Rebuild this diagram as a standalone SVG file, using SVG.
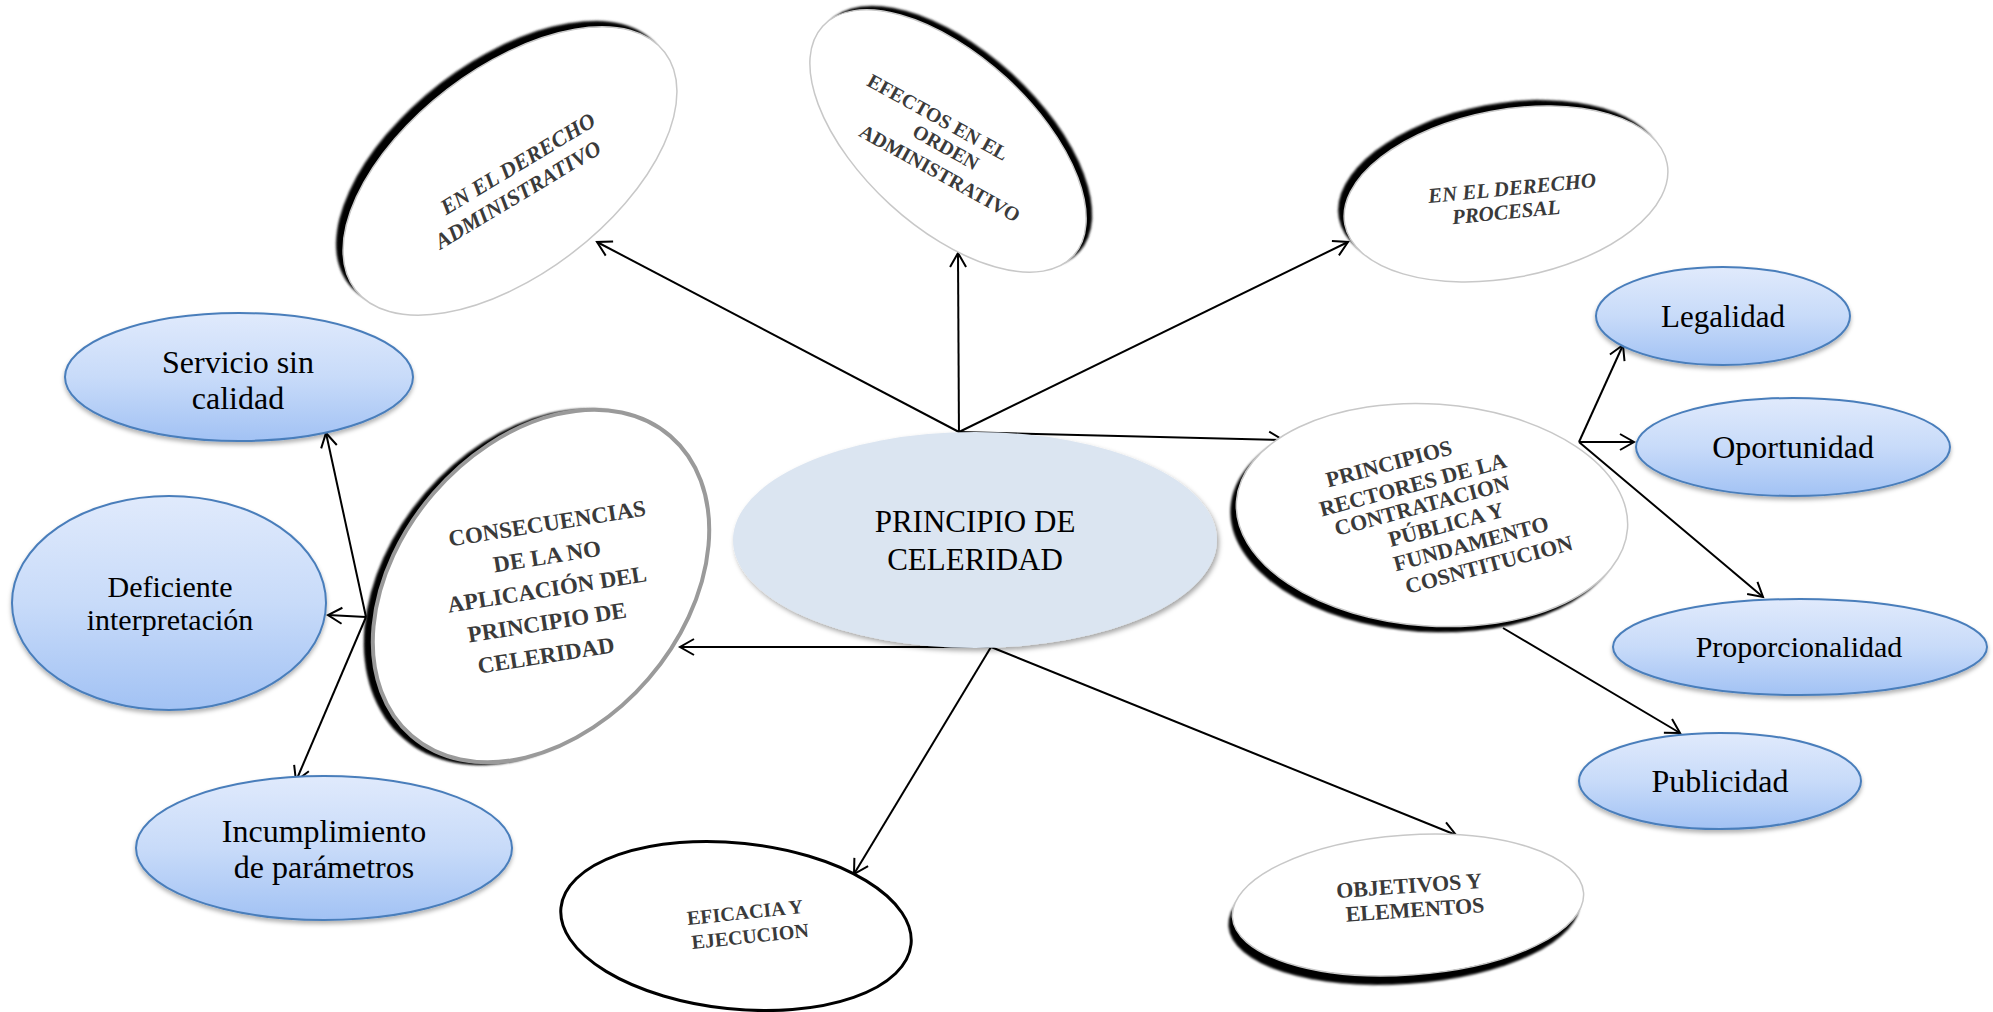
<svg xmlns="http://www.w3.org/2000/svg" width="1993" height="1012" viewBox="0 0 1993 1012">
<defs>
  <linearGradient id="blueGrad" x1="0" y1="0" x2="0" y2="1">
    <stop offset="0" stop-color="#e0eafc"/>
    <stop offset="0.5" stop-color="#c8dbf9"/>
    <stop offset="1" stop-color="#a2c2f4"/>
  </linearGradient>
  <filter id="dropShadow" x="-10%" y="-10%" width="120%" height="135%">
    <feDropShadow dx="0" dy="3" stdDeviation="2" flood-color="#000" flood-opacity="0.3"/>
  </filter>
  <filter id="centerShadow" x="-10%" y="-10%" width="120%" height="135%">
    <feDropShadow dx="2" dy="3" stdDeviation="2.5" flood-color="#000" flood-opacity="0.35"/>
  </filter>
  <filter id="soft" x="-10%" y="-10%" width="120%" height="120%">
    <feGaussianBlur stdDeviation="1.3"/>
  </filter>
  <marker id="arrow" viewBox="-16 -10 20 20" refX="0" refY="0" markerWidth="20" markerHeight="20" markerUnits="userSpaceOnUse" orient="auto">
    <path d="M-14,-8 L0,0 L-14,8" fill="none" stroke="#000" stroke-width="2"/>
  </marker>
</defs>
<style>
  .blue { fill: url(#blueGrad); stroke: #4a7ebb; stroke-width: 2; }
  .blueText { font-family: "Liberation Serif", serif; fill: #000; text-anchor: middle; }
  .bevel { fill: #000; }
  .face { fill: #fff; stroke: #c8c8c8; stroke-width: 1.5; }
  .tilt { font-family: "Liberation Serif", serif; font-weight: bold; fill: #3a3a3a; text-anchor: middle; }
  .ital { font-style: italic; }
  .conn { stroke: #000; stroke-width: 2; fill: none; marker-end: url(#arrow); }
</style>
<rect width="1993" height="1012" fill="#fff"/>

<!-- connectors -->
<g id="connectors">
  <path class="conn" d="M959,432 L597,242"/>
  <path class="conn" d="M959,440 L958,253"/>
  <path class="conn" d="M959,432 L1348,242"/>
  <path class="conn" d="M959,432 L1283,440"/>
  <path class="conn" d="M991,647 L680,647"/>
  <path class="conn" d="M991,647 L854,874"/>
  <path class="conn" d="M991,647 L1456,835"/>
  <path class="conn" d="M366,617 L326,433"/>
  <path class="conn" d="M366,617 L328,615"/>
  <path class="conn" d="M366,617 L296,781"/>
  <path class="conn" d="M1579,442 L1623,345"/>
  <path class="conn" d="M1579,442 L1634,442"/>
  <path class="conn" d="M1579,442 L1763,597"/>
  <path class="conn" d="M1503,628 L1680,733"/>
</g>

<!-- central node -->
<g id="node-principio">
  <ellipse cx="975" cy="540" rx="242" ry="108" fill="#dbe5f1" filter="url(#centerShadow)"/>
  <text class="blueText" x="975" y="532" font-size="31">PRINCIPIO DE</text>
  <text class="blueText" x="975" y="570" font-size="31">CELERIDAD</text>
</g>

<!-- tilted white nodes -->
<g id="node-derecho-administrativo">
  <ellipse class="bevel" filter="url(#soft)" transform="translate(503,165) rotate(-37.5)" rx="195" ry="103"/>
  <ellipse class="face" transform="translate(510,171) rotate(-37.5)" rx="195" ry="103"/>
  <text class="tilt ital" font-size="22" transform="translate(518,164) rotate(-31)" y="7">EN EL DERECHO</text>
  <text class="tilt ital" font-size="22" transform="translate(518,195) rotate(-31)" y="7">ADMINISTRATIVO</text>
</g>

<g id="node-efectos">
  <ellipse class="bevel" filter="url(#soft)" transform="translate(954,137) rotate(42.5)" rx="170" ry="86"/>
  <ellipse class="face" transform="translate(948,141) rotate(42.5)" rx="170" ry="86"/>
  <text class="tilt" font-size="20" transform="translate(938,117) rotate(29)" y="7">EFECTOS EN EL</text>
  <text class="tilt" font-size="20" transform="translate(946,147) rotate(29)" y="7">ORDEN</text>
  <text class="tilt" font-size="20" transform="translate(940,173) rotate(29)" y="7">ADMINISTRATIVO</text>
</g>

<g id="node-derecho-procesal">
  <ellipse class="bevel" filter="url(#soft)" transform="translate(1500,188) rotate(-10.7)" rx="164" ry="84"/>
  <ellipse class="face" transform="translate(1506,194) rotate(-10.7)" rx="164" ry="84"/>
  <text class="tilt ital" font-size="21" transform="translate(1512,188) rotate(-5.5)" y="7">EN EL DERECHO</text>
  <text class="tilt ital" font-size="21" transform="translate(1506,212) rotate(-5.5)" y="7">PROCESAL</text>
</g>

<g id="node-principios-rectores">
  <ellipse class="bevel" filter="url(#soft)" transform="translate(1426,521) rotate(4)" rx="196" ry="111"/>
  <ellipse class="face" transform="translate(1432,515) rotate(4)" rx="196" ry="111"/>
  <text class="tilt" font-size="22" transform="translate(1389,464) rotate(-15)" y="7">PRINCIPIOS</text>
  <text class="tilt" font-size="22" transform="translate(1413,485) rotate(-15)" y="7">RECTORES DE LA</text>
  <text class="tilt" font-size="22" transform="translate(1422,506) rotate(-15)" y="7">CONTRATACION</text>
  <text class="tilt" font-size="22" transform="translate(1446,525) rotate(-15)" y="7">PÚBLICA Y</text>
  <text class="tilt" font-size="22" transform="translate(1471,544) rotate(-15)" y="7">FUNDAMENTO</text>
  <text class="tilt" font-size="22" transform="translate(1489,565) rotate(-15)" y="7">COSNTITUCION</text>
</g>

<g id="node-consecuencias">
  <ellipse class="bevel" filter="url(#soft)" transform="translate(534,587) rotate(40.8)" rx="144" ry="200"/>
  <ellipse fill="#fff" stroke="#9a9a9a" stroke-width="4" transform="translate(541,586) rotate(40.8)" rx="142" ry="198"/>
  <text class="tilt" font-size="23" fill="#333" transform="translate(547,523) rotate(-9)" y="8">CONSECUENCIAS</text>
  <text class="tilt" font-size="23" fill="#333" transform="translate(547,556) rotate(-9)" y="8">DE LA NO</text>
  <text class="tilt" font-size="23" fill="#333" transform="translate(547,589) rotate(-9)" y="8">APLICACIÓN DEL</text>
  <text class="tilt" font-size="23" fill="#333" transform="translate(547,622) rotate(-9)" y="8">PRINCIPIO DE</text>
  <text class="tilt" font-size="23" fill="#333" transform="translate(546,655) rotate(-9)" y="8">CELERIDAD</text>
</g>

<g id="node-eficacia">
  <ellipse fill="#fff" stroke="#000" stroke-width="3" transform="translate(736,926) rotate(6)" rx="176" ry="83"/>
  <text class="tilt" font-size="20" transform="translate(745,912) rotate(-6)" y="7">EFICACIA Y</text>
  <text class="tilt" font-size="20" transform="translate(750,936) rotate(-6)" y="7">EJECUCION</text>
</g>

<g id="node-objetivos">
  <ellipse class="bevel" filter="url(#soft)" transform="translate(1404,914) rotate(-4)" rx="176" ry="70"/>
  <ellipse class="face" transform="translate(1408,905) rotate(-4)" rx="176" ry="70"/>
  <text class="tilt" font-size="22" transform="translate(1409,886) rotate(-4)" y="7">OBJETIVOS Y</text>
  <text class="tilt" font-size="22" transform="translate(1415,910) rotate(-4)" y="7">ELEMENTOS</text>
</g>

<!-- blue nodes -->
<g id="node-servicio">
  <ellipse class="blue" filter="url(#dropShadow)" cx="239" cy="377" rx="174" ry="64"/>
  <text class="blueText" x="238" y="373" font-size="32">Servicio sin</text>
  <text class="blueText" x="238" y="409" font-size="32">calidad</text>
</g>
<g id="node-deficiente">
  <ellipse class="blue" filter="url(#dropShadow)" cx="169" cy="603" rx="157" ry="107"/>
  <text class="blueText" x="170" y="597" font-size="30">Deficiente</text>
  <text class="blueText" x="170" y="630" font-size="30">interpretación</text>
</g>
<g id="node-incumplimiento">
  <ellipse class="blue" filter="url(#dropShadow)" cx="324" cy="848" rx="188" ry="72"/>
  <text class="blueText" x="324" y="842" font-size="32">Incumplimiento</text>
  <text class="blueText" x="324" y="878" font-size="32">de parámetros</text>
</g>
<g id="node-legalidad">
  <ellipse class="blue" filter="url(#dropShadow)" cx="1723" cy="316" rx="127" ry="49"/>
  <text class="blueText" x="1723" y="327" font-size="31">Legalidad</text>
</g>
<g id="node-oportunidad">
  <ellipse class="blue" filter="url(#dropShadow)" cx="1793" cy="447" rx="157" ry="49"/>
  <text class="blueText" x="1793" y="458" font-size="32">Oportunidad</text>
</g>
<g id="node-proporcionalidad">
  <ellipse class="blue" filter="url(#dropShadow)" cx="1800" cy="647" rx="187" ry="48"/>
  <text class="blueText" x="1799" y="657" font-size="30">Proporcionalidad</text>
</g>
<g id="node-publicidad">
  <ellipse class="blue" filter="url(#dropShadow)" cx="1720" cy="781" rx="141" ry="48"/>
  <text class="blueText" x="1720" y="792" font-size="32">Publicidad</text>
</g>
</svg>
